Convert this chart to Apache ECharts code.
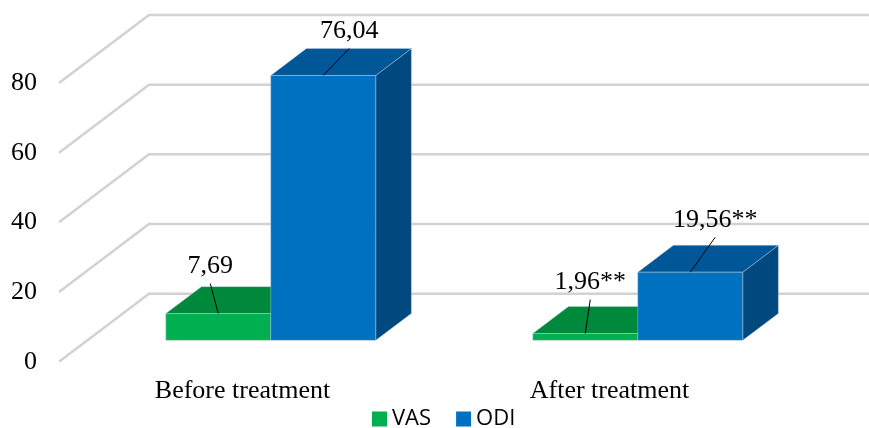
<!DOCTYPE html>
<html>
<head>
<meta charset="utf-8">
<script src="https://cdn.jsdelivr.net/npm/echarts@6/dist/echarts.min.js"></script>
<style>
  html, body { margin: 0; padding: 0; background: #ffffff; }
  #chart { width: 869px; height: 428px; }
</style>
</head>
<body>
<div id="chart"></div>
<script>
// ---- data ----
const categories = ['Before treatment', 'After treatment'];
const vasValues = [7.69, 1.96];
const odiValues = [76.04, 19.56];
const significance = ['', '**'];
const yTicks = [0, 20, 40, 60, 80];

// ---- 3D look ----
const DEPTH = [90, -68];          // front plane -> back wall offset (px)
const BAR_FRONT = 0.314;          // depth fraction of the bars' front faces
const BAR_BACK = 0.71;            // depth fraction of the bars' back faces
const BAR_FRAC = 0.286;           // one bar's width as a share of a category band

const palette = {
  VAS: { front: '#00B050', top: '#00893D', side: '#00773A' },
  ODI: { front: '#0070C0', top: '#005797', side: '#00487E' }
};
// value-label placement relative to each bar's front-top midpoint
const labelShift = {
  VAS: [[-8, -47], [5, -51]],
  ODI: [[26, -44], [25, -52]]
};

const serif = '"Liberation Serif", "Times New Roman", serif';

function barBox(api, idx, value, slot) {
  const base = api.coord([idx, 0]);
  const top = api.coord([idx, value]);
  const band = api.size([1, 0])[0];
  const w = band * BAR_FRAC;
  const fx = DEPTH[0] * BAR_FRONT, fy = DEPTH[1] * BAR_FRONT;
  const x0 = base[0] + (slot === 0 ? -w : 0) + fx;
  return {
    x0: x0, x1: x0 + w,
    y0: base[1] + fy, y1: top[1] + fy,
    bx: DEPTH[0] * (BAR_BACK - BAR_FRONT),
    by: DEPTH[1] * (BAR_BACK - BAR_FRONT)
  };
}

function barRenderer(key, slot) {
  const c = palette[key];
  const edge = { stroke: 'rgba(190,205,225,0.55)', lineWidth: 0.8 };
  return function (params, api) {
    const b = barBox(api, api.value(0), api.value(1), slot);
    return {
      type: 'group',
      children: [
        { type: 'polygon', shape: { points: [[b.x1, b.y1], [b.x1 + b.bx, b.y1 + b.by], [b.x1 + b.bx, b.y0 + b.by], [b.x1, b.y0]] },
          style: Object.assign({ fill: c.side }, edge) },
        { type: 'polygon', shape: { points: [[b.x0, b.y1], [b.x1, b.y1], [b.x1 + b.bx, b.y1 + b.by], [b.x0 + b.bx, b.y1 + b.by]] },
          style: Object.assign({ fill: c.top }, edge) },
        { type: 'rect', shape: { x: b.x0, y: b.y1, width: b.x1 - b.x0, height: b.y0 - b.y1 },
          style: Object.assign({ fill: c.front }, edge) }
      ]
    };
  };
}

function gridRenderer(params, api) {
  const cs = params.coordSys;
  const y = api.coord([0, api.value(1)])[1];
  const xf = cs.x;
  const xb = cs.x + DEPTH[0];
  const xr = cs.x + cs.width + DEPTH[0];
  return {
    type: 'polyline',
    shape: { points: [[xf, y], [xb, y + DEPTH[1]], [xr, y + DEPTH[1]]] },
    style: { stroke: '#d2d2d2', lineWidth: 2.5, fill: null }
  };
}

function labelRenderer(params, api) {
  const idx = api.value(0), val = api.value(1), slot = api.value(2);
  const key = slot === 0 ? 'VAS' : 'ODI';
  const b = barBox(api, idx, val, slot);
  const ax = (b.x0 + b.x1) / 2, ay = b.y1;
  const sh = labelShift[key][idx];
  const lx = ax + sh[0], ly = ay + sh[1];
  const txt = val.toFixed(2).replace('.', ',') + significance[idx];
  return {
    type: 'group',
    children: [
      { type: 'line', shape: { x1: lx, y1: ly + 17, x2: ax, y2: ay },
        style: { stroke: '#000', lineWidth: 1 } },
      { type: 'text', x: lx, y: ly,
        style: { text: txt, fill: '#000', font: '26px ' + serif,
                 align: 'center', verticalAlign: 'middle',
                 textAlign: 'center', textVerticalAlign: 'middle' } }
    ]
  };
}

const chart = echarts.init(document.getElementById('chart'), null, { renderer: 'canvas' });
chart.setOption({
  animation: false,
  backgroundColor: '#ffffff',
  grid: { left: 59, right: 76, top: 83, bottom: 66.3, containLabel: false },
  legend: {
    data: ['VAS', 'ODI'],
    left: 372, top: 408,
    padding: 0,
    icon: 'rect', itemWidth: 15, itemHeight: 15, itemGap: 25,
    textStyle: { fontFamily: '"Open Sans", sans-serif', fontSize: 22, color: '#000' }
  },
  xAxis: {
    type: 'category',
    data: categories,
    axisLine: { show: false },
    axisTick: { show: false },
    splitLine: { show: false },
    axisLabel: { fontFamily: serif, fontSize: 26, color: '#000', margin: 16 }
  },
  yAxis: {
    type: 'value',
    min: 0, max: 80, interval: 20,
    axisLine: { show: false },
    axisTick: { show: false },
    splitLine: { show: false },
    axisLabel: { fontFamily: serif, fontSize: 26, color: '#000', margin: 22 }
  },
  series: [
    { type: 'custom', name: 'grid', silent: true, renderItem: gridRenderer,
      encode: { x: 0, y: 1 }, data: yTicks.map(v => [0, v]) },
    { type: 'custom', name: 'VAS', renderItem: barRenderer('VAS', 0),
      itemStyle: { color: palette.VAS.front },
      encode: { x: 0, y: 1 }, data: vasValues.map((v, i) => [i, v]) },
    { type: 'custom', name: 'ODI', renderItem: barRenderer('ODI', 1),
      itemStyle: { color: palette.ODI.front },
      encode: { x: 0, y: 1 }, data: odiValues.map((v, i) => [i, v]) },
    { type: 'custom', name: 'labels', silent: true, renderItem: labelRenderer,
      encode: { x: 0, y: 1 },
      data: vasValues.map((v, i) => [i, v, 0]).concat(odiValues.map((v, i) => [i, v, 1])) }
  ]
});
</script>
</body>
</html>
